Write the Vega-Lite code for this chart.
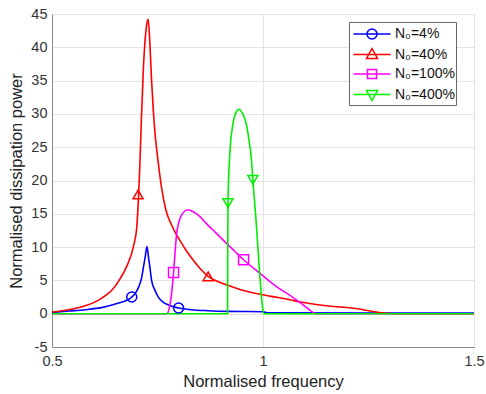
{
  "$schema": "https://vega.github.io/schema/vega-lite/v6.json",
  "autosize": {"type": "none"},
  "padding": {"left": 52, "top": 14, "right": 12, "bottom": 47},
  "width": 422,
  "height": 333,
  "config": {
    "font": "Liberation Sans",
    "view": {"stroke": "#8a8a8a", "strokeWidth": 1},
    "axis": {
      "domainColor": "#8a8a8a", "ticks": false, "gridColor": "#e3e3e3", "gridWidth": 1, "labelOverlap": false,
      "labelColor": "#333333", "labelFontSize": 14.5, "labelFont": "Liberation Sans",
      "titleColor": "#222222", "titleFontSize": 16.5, "titleFont": "Liberation Sans", "titleFontWeight": "normal"
    }
  },
  "datasets": {
    "curves": [
      {"s": "N₀=4%", "x": 0.5, "y": 0.2},
      {"s": "N₀=4%", "x": 0.54, "y": 0.4},
      {"s": "N₀=4%", "x": 0.579, "y": 0.6},
      {"s": "N₀=4%", "x": 0.62, "y": 0.95},
      {"s": "N₀=4%", "x": 0.658, "y": 1.6},
      {"s": "N₀=4%", "x": 0.68, "y": 2.1},
      {"s": "N₀=4%", "x": 0.689, "y": 2.5},
      {"s": "N₀=4%", "x": 0.7, "y": 3.3},
      {"s": "N₀=4%", "x": 0.706, "y": 4.1},
      {"s": "N₀=4%", "x": 0.712, "y": 5.3},
      {"s": "N₀=4%", "x": 0.717, "y": 7.1},
      {"s": "N₀=4%", "x": 0.721, "y": 8.6},
      {"s": "N₀=4%", "x": 0.725, "y": 10.1},
      {"s": "N₀=4%", "x": 0.729, "y": 8.3},
      {"s": "N₀=4%", "x": 0.732, "y": 7.0},
      {"s": "N₀=4%", "x": 0.736, "y": 5.0},
      {"s": "N₀=4%", "x": 0.744, "y": 3.5},
      {"s": "N₀=4%", "x": 0.752, "y": 2.5},
      {"s": "N₀=4%", "x": 0.763, "y": 1.75},
      {"s": "N₀=4%", "x": 0.776, "y": 1.3},
      {"s": "N₀=4%", "x": 0.8, "y": 0.85},
      {"s": "N₀=4%", "x": 0.83, "y": 0.6},
      {"s": "N₀=4%", "x": 0.87, "y": 0.45},
      {"s": "N₀=4%", "x": 0.92, "y": 0.35},
      {"s": "N₀=4%", "x": 1.0, "y": 0.3},
      {"s": "N₀=4%", "x": 1.01, "y": 0.15},
      {"s": "N₀=4%", "x": 1.5, "y": 0.1},
      {"s": "N₀=40%", "x": 0.5, "y": 0.25},
      {"s": "N₀=40%", "x": 0.539, "y": 0.6},
      {"s": "N₀=40%", "x": 0.579, "y": 1.2},
      {"s": "N₀=40%", "x": 0.6, "y": 1.7},
      {"s": "N₀=40%", "x": 0.618, "y": 2.35},
      {"s": "N₀=40%", "x": 0.64, "y": 3.4},
      {"s": "N₀=40%", "x": 0.658, "y": 4.9},
      {"s": "N₀=40%", "x": 0.677, "y": 7.1},
      {"s": "N₀=40%", "x": 0.693, "y": 10.1},
      {"s": "N₀=40%", "x": 0.701, "y": 13.1},
      {"s": "N₀=40%", "x": 0.705, "y": 17.5},
      {"s": "N₀=40%", "x": 0.708, "y": 22.0},
      {"s": "N₀=40%", "x": 0.712, "y": 29.5},
      {"s": "N₀=40%", "x": 0.716, "y": 36.0},
      {"s": "N₀=40%", "x": 0.72, "y": 40.6},
      {"s": "N₀=40%", "x": 0.725, "y": 43.6},
      {"s": "N₀=40%", "x": 0.728, "y": 44.2},
      {"s": "N₀=40%", "x": 0.732, "y": 40.5},
      {"s": "N₀=40%", "x": 0.736, "y": 35.0},
      {"s": "N₀=40%", "x": 0.74, "y": 30.6},
      {"s": "N₀=40%", "x": 0.745, "y": 26.5},
      {"s": "N₀=40%", "x": 0.751, "y": 23.1},
      {"s": "N₀=40%", "x": 0.759, "y": 19.2},
      {"s": "N₀=40%", "x": 0.769, "y": 15.8},
      {"s": "N₀=40%", "x": 0.785, "y": 13.1},
      {"s": "N₀=40%", "x": 0.803, "y": 11.0},
      {"s": "N₀=40%", "x": 0.818, "y": 9.5},
      {"s": "N₀=40%", "x": 0.834, "y": 8.1},
      {"s": "N₀=40%", "x": 0.852, "y": 6.7},
      {"s": "N₀=40%", "x": 0.87, "y": 5.6},
      {"s": "N₀=40%", "x": 0.89, "y": 4.9},
      {"s": "N₀=40%", "x": 0.913, "y": 4.35},
      {"s": "N₀=40%", "x": 0.94, "y": 3.75},
      {"s": "N₀=40%", "x": 0.968, "y": 3.25},
      {"s": "N₀=40%", "x": 1.02, "y": 2.6},
      {"s": "N₀=40%", "x": 1.063, "y": 2.1},
      {"s": "N₀=40%", "x": 1.086, "y": 1.8},
      {"s": "N₀=40%", "x": 1.13, "y": 1.35},
      {"s": "N₀=40%", "x": 1.181, "y": 1.0},
      {"s": "N₀=40%", "x": 1.204, "y": 0.9},
      {"s": "N₀=40%", "x": 1.228, "y": 0.7},
      {"s": "N₀=40%", "x": 1.255, "y": 0.4},
      {"s": "N₀=40%", "x": 1.28, "y": 0.15},
      {"s": "N₀=40%", "x": 1.32, "y": 0.0},
      {"s": "N₀=40%", "x": 1.5, "y": 0.0},
      {"s": "N₀=100%", "x": 0.5, "y": 0.0},
      {"s": "N₀=100%", "x": 0.772, "y": 0.0},
      {"s": "N₀=100%", "x": 0.78, "y": 1.5},
      {"s": "N₀=100%", "x": 0.785, "y": 4.0},
      {"s": "N₀=100%", "x": 0.788, "y": 6.2},
      {"s": "N₀=100%", "x": 0.792, "y": 9.5},
      {"s": "N₀=100%", "x": 0.795, "y": 11.8},
      {"s": "N₀=100%", "x": 0.8, "y": 13.6},
      {"s": "N₀=100%", "x": 0.81, "y": 15.1},
      {"s": "N₀=100%", "x": 0.822, "y": 15.6},
      {"s": "N₀=100%", "x": 0.835, "y": 15.3},
      {"s": "N₀=100%", "x": 0.85, "y": 14.6},
      {"s": "N₀=100%", "x": 0.865, "y": 13.6},
      {"s": "N₀=100%", "x": 0.881, "y": 12.6},
      {"s": "N₀=100%", "x": 0.897, "y": 11.6},
      {"s": "N₀=100%", "x": 0.913, "y": 10.6},
      {"s": "N₀=100%", "x": 0.934, "y": 9.3},
      {"s": "N₀=100%", "x": 0.954, "y": 8.1},
      {"s": "N₀=100%", "x": 0.992, "y": 6.1},
      {"s": "N₀=100%", "x": 1.031, "y": 4.1},
      {"s": "N₀=100%", "x": 1.07, "y": 2.5},
      {"s": "N₀=100%", "x": 1.102, "y": 1.0},
      {"s": "N₀=100%", "x": 1.126, "y": 0.0},
      {"s": "N₀=100%", "x": 1.5, "y": 0.0},
      {"s": "N₀=400%", "x": 0.5, "y": 0.0},
      {"s": "N₀=400%", "x": 0.916, "y": 0.0},
      {"s": "N₀=400%", "x": 0.9165, "y": 10.0},
      {"s": "N₀=400%", "x": 0.917, "y": 16.6},
      {"s": "N₀=400%", "x": 0.921, "y": 23.6},
      {"s": "N₀=400%", "x": 0.929, "y": 28.6},
      {"s": "N₀=400%", "x": 0.936, "y": 30.2},
      {"s": "N₀=400%", "x": 0.943, "y": 30.7},
      {"s": "N₀=400%", "x": 0.951, "y": 30.1},
      {"s": "N₀=400%", "x": 0.96, "y": 28.6},
      {"s": "N₀=400%", "x": 0.967, "y": 26.0},
      {"s": "N₀=400%", "x": 0.972, "y": 23.6},
      {"s": "N₀=400%", "x": 0.976, "y": 20.1},
      {"s": "N₀=400%", "x": 0.984, "y": 13.6},
      {"s": "N₀=400%", "x": 0.992, "y": 6.1},
      {"s": "N₀=400%", "x": 0.998, "y": 1.5},
      {"s": "N₀=400%", "x": 1.002, "y": 0.0},
      {"s": "N₀=400%", "x": 1.5, "y": 0.0}
    ],
    "markers": [
      {"s": "N₀=4%", "m": "circle", "x": 0.689, "y": 2.5},
      {"s": "N₀=4%", "m": "circle", "x": 0.8, "y": 0.85},
      {"s": "N₀=40%", "m": "triangle-up", "x": 0.704, "y": 17.9},
      {"s": "N₀=40%", "m": "triangle-up", "x": 0.87, "y": 5.6},
      {"s": "N₀=100%", "m": "square", "x": 0.788, "y": 6.2},
      {"s": "N₀=100%", "m": "square", "x": 0.954, "y": 8.1},
      {"s": "N₀=400%", "m": "triangle-down", "x": 0.917, "y": 16.6},
      {"s": "N₀=400%", "m": "triangle-down", "x": 0.976, "y": 20.1}
    ]
  },
  "layer": [
    {
      "data": {"name": "curves"},
      "mark": {"type": "line", "strokeWidth": 1.6, "clip": true, "interpolate": "monotone"},
      "encoding": {
        "x": {
          "field": "x", "type": "quantitative",
          "scale": {"domain": [0.5, 1.5], "nice": false, "zero": false},
          "axis": {"title": "Normalised frequency", "values": [0.5, 1, 1.5], "tickCount": 20, "format": "~g", "labelPadding": 7, "titlePadding": 6, "labelFlush": false}
        },
        "y": {
          "field": "y", "type": "quantitative",
          "scale": {"domain": [-5, 45], "nice": false, "zero": false},
          "axis": {"title": "Normalised dissipation power", "values": [-5, 0, 5, 10, 15, 20, 25, 30, 35, 40, 45], "tickCount": 20, "labelExpr": "'' + datum.value", "labelPadding": 5, "titlePadding": 6, "labelFlush": false}
        },
        "color": {
          "field": "s", "type": "nominal",
          "scale": {"domain": ["N₀=4%", "N₀=40%", "N₀=100%", "N₀=400%"], "range": ["#0000ff", "#ff0000", "#ff00ff", "#00ee00"]},
          "legend": {
            "orient": "none", "legendX": 297, "legendY": 8, "title": null,
            "fillColor": "white", "strokeColor": "#666666", "padding": 1,
            "symbolSize": 400, "symbolStrokeWidth": 1.5, "symbolOffset": 11,
            "labelFont": "Liberation Sans", "labelFontSize": 14, "labelColor": "#111111", "labelOffset": 12, "rowPadding": 1.5,
            "encode": {
              "symbols": {
                "update": {
                  "fill": {"value": "transparent"},
                  "shape": {"signal": "datum.value === 'N₀=4%' ? 'M-1.85,0H1.85M0.5,0A0.5,0.5,0,1,1,-0.5,0A0.5,0.5,0,1,1,0.5,0' : datum.value === 'N₀=40%' ? 'M-1.85,0H1.85M0,-0.6L0.55,0.4L-0.55,0.4Z' : datum.value === 'N₀=100%' ? 'M-1.85,0H1.85M-0.45,-0.45H0.45V0.45H-0.45Z' : 'M-1.85,0H1.85M0,0.6L0.55,-0.4L-0.55,-0.4Z'"}
                }
              }
            }
          }
        }
      }
    },
    {
      "data": {"name": "markers"},
      "mark": {"type": "point", "filled": false, "size": 100, "strokeWidth": 1.5, "opacity": 1},
      "encoding": {
        "x": {"field": "x", "type": "quantitative"},
        "y": {"field": "y", "type": "quantitative"},
        "color": {"field": "s", "type": "nominal", "legend": null},
        "shape": {"field": "m", "type": "nominal", "legend": null, "scale": null}
      }
    }
  ]
}
